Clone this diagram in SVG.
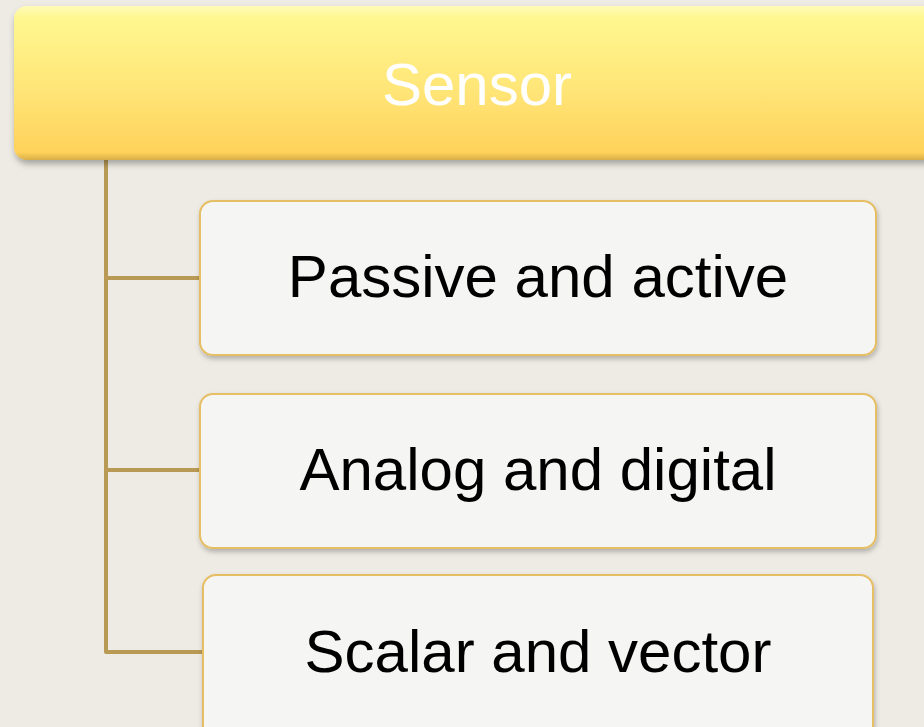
<svg xmlns="http://www.w3.org/2000/svg" width="924" height="727" viewBox="0 0 924 727">
<defs>
<linearGradient id="hg" x1="0" y1="0" x2="0" y2="1">
<stop offset="0" stop-color="#FFFBB8"/>
<stop offset="0.08" stop-color="#FFF78F"/>
<stop offset="0.55" stop-color="#FFE577"/>
<stop offset="0.95" stop-color="#FFD25A"/>
<stop offset="1" stop-color="#D9AE48"/>
</linearGradient>
<filter id="sh" x="-10%" y="-10%" width="120%" height="130%">
<feDropShadow dx="1" dy="4" stdDeviation="3" flood-color="#000" flood-opacity="0.3"/>
</filter>
<filter id="sh2" x="-10%" y="-10%" width="120%" height="130%">
<feDropShadow dx="1" dy="3" stdDeviation="2.5" flood-color="#000" flood-opacity="0.25"/>
</filter>
</defs>
<style>
.box{fill:#F5F5F3;stroke:#E6BE64;stroke-width:2;filter:url(#sh2)}
.lbl{font-family:"Liberation Sans",Arial,sans-serif;font-size:60px;fill:#000;text-anchor:middle}
.conn{stroke:#B99A55;stroke-width:4;fill:none;stroke-linejoin:round}
</style>
<rect width="924" height="727" fill="#EEEBE4"/>
<g id="connectors">
<path class="conn" d="M106 160 V652 H204"/>
<path class="conn" d="M106 278 H200"/>
<path class="conn" d="M106 470 H200"/>
</g>
<g id="sensor">
<rect x="14" y="6" width="930" height="154" rx="13" fill="url(#hg)" filter="url(#sh)"/>
<text x="477" y="105" font-family="'Liberation Sans',Arial,sans-serif" font-size="60" fill="#FFFFFF" text-anchor="middle">Sensor</text>
</g>
<g id="passive">
<rect class="box" x="200" y="201" width="676" height="154" rx="13"/>
<text class="lbl" x="538" y="297">Passive and active</text>
</g>
<g id="analog">
<rect class="box" x="200" y="394" width="676" height="154" rx="13"/>
<text class="lbl" x="538" y="490">Analog and digital</text>
</g>
<g id="scalar">
<rect class="box" x="203" y="575" width="670" height="170" rx="13"/>
<text class="lbl" x="538" y="672">Scalar and vector</text>
</g>
</svg>
